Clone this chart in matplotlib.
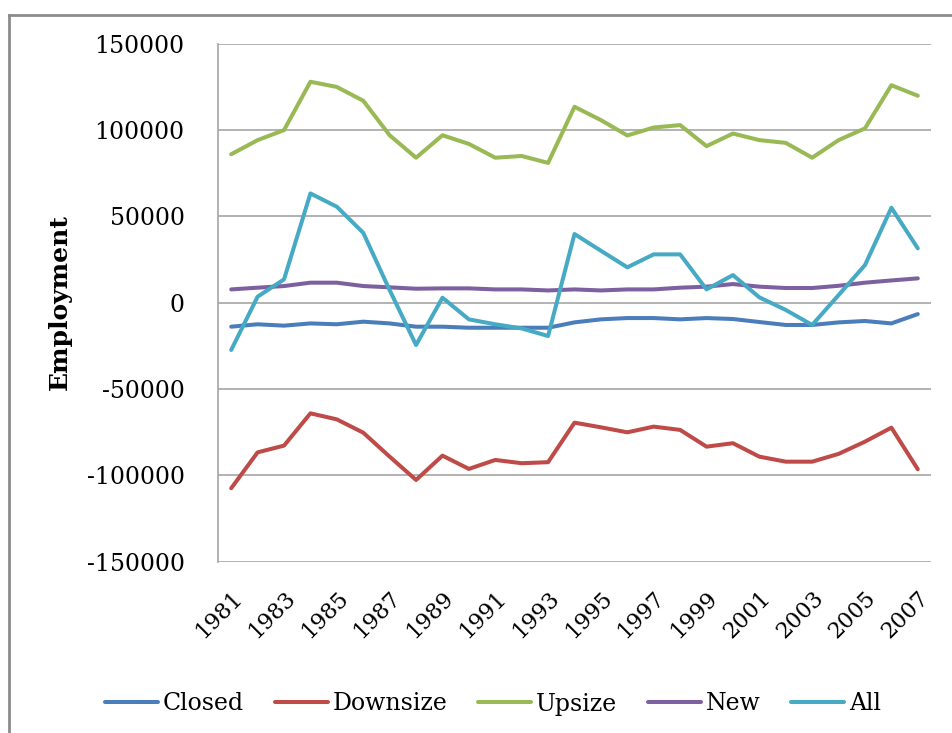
import matplotlib
matplotlib.use("Agg")
import matplotlib.pyplot as plt
from matplotlib.lines import Line2D

years = list(range(1981, 2008))

closed = [-13900, -12500, -13300, -12000, -12500, -11000, -12000, -13900, -13900,
          -14500, -14500, -14500, -14500, -11400, -9650, -8900, -8900, -9650,
          -8900, -9450, -11200, -12900, -12900, -11400, -10600, -12000, -6600]
downsize = [-107500, -86700, -82800, -64100, -67600, -75300, -89200, -102700, -88600,
            -96300, -91100, -93000, -92400, -69500, -72200, -75100, -71800, -73700,
            -83400, -81400, -89200, -92100, -92100, -87600, -80500, -72400, -96500]
upsize = [86000, 94200, 100000, 128000, 125000, 117000, 97000, 84000, 97000,
          92000, 84000, 85000, 81000, 113500, 105800, 96900, 101500, 102900,
          90700, 98000, 94200, 92600, 84000, 94200, 101000, 126000, 119900]
new = [7700, 8700, 9650, 11600, 11600, 9650, 8900, 8100, 8300,
       8300, 7700, 7700, 7100, 7700, 7100, 7700, 7700, 8700,
       9300, 10800, 9300, 8500, 8500, 9800, 11600, 12900, 14100]
all_ = [-27400, 3500, 13500, 63300, 55600, 40500, 7300, -24500, 2900,
        -9650, -12500, -14900, -19300, 39800, 30100, 20500, 28000, 28000,
        7700, 16000, 3100, -4200, -12900, 4400, 21800, 55000, 31500]

series = [("Closed", closed, "#4a7ebb"),
          ("Downsize", downsize, "#be4b48"),
          ("Upsize", upsize, "#98b954"),
          ("New", new, "#7d60a0"),
          ("All", all_, "#46aac5")]

yticks = [-150000, -100000, -50000, 0, 50000, 100000, 150000]
xtick_years = years[::2]

plt.rcParams['font.family'] = ['DejaVu Serif']

fig = plt.figure(figsize=(9.52, 7.33), dpi=100)
ax = fig.add_axes([218/952, 1-561.6/733, (931-218)/952, (561.6-43.8)/733])

for name, vals, col in series:
    ax.plot(years, vals, color=col, lw=2.9, label=name, solid_capstyle='round',
            solid_joinstyle='round')

ax.set_xlim(1980.5, 2007.5)
ax.set_ylim(-150000, 150000)
ax.set_yticks(yticks)
ax.set_yticklabels([str(v) for v in yticks], fontsize=17)
ax.set_xticks(xtick_years)
ax.set_xticklabels([str(y) for y in xtick_years], fontsize=16, rotation=45,
                   ha='right', va='top', rotation_mode='anchor')
ax.tick_params(axis='y', length=0, pad=24)
ax.tick_params(axis='x', length=0, pad=18)
ax.grid(axis='y', color='#a6a6a6', lw=1.2)
ax.set_axisbelow(True)
for s in ['top', 'right', 'bottom']:
    ax.spines[s].set_visible(False)
ax.spines['left'].set_color('#a6a6a6')
ax.spines['left'].set_linewidth(1.2)

fig.text(60/952, 1-302/733, "Employment", rotation=90, fontsize=18,
         fontweight='bold', ha='center', va='center')

# outer chart frame (left and top edges only visible)
fig.add_artist(Line2D([9/952, 9/952], [0, 1-15/733], color='#8c8c8c', lw=2,
                      transform=fig.transFigure))
fig.add_artist(Line2D([9/952, 1], [1-15/733, 1-15/733], color='#8c8c8c', lw=2,
                      transform=fig.transFigure))

fig.legend(loc='center', bbox_to_anchor=(493/952, 1-704/733), ncol=5,
           frameon=False, fontsize=17, handlelength=2.25, handletextpad=0.2,
           columnspacing=1.3)

fig.savefig("out.png", dpi=100)
